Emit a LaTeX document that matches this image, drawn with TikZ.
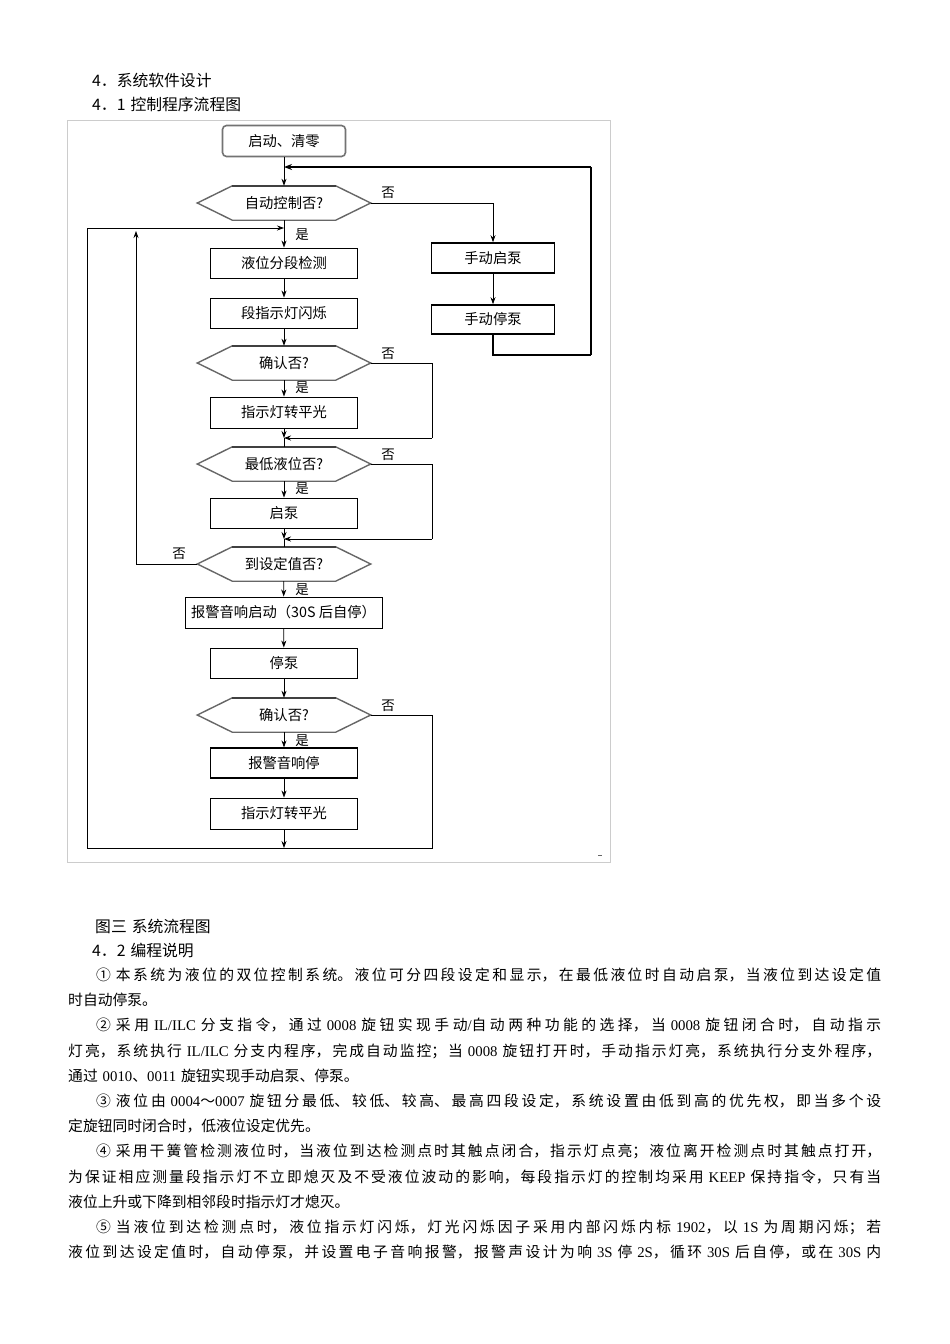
\documentclass[tikz,border=0pt]{standalone}
\usepackage{fontspec}
\setmainfont{Noto Sans CJK SC}
\newfontfamily\latf{Liberation Serif}
\usetikzlibrary{arrows.meta}
\XeTeXlinebreaklocale "zh"
\XeTeXlinebreakskip=0pt plus 1fil
\newcommand\fcfont{\fontsize{14.3}{16}\selectfont}
\newcommand\lblfont{\fontsize{13.5}{14}\selectfont}
\newcommand\hdfont{\fontsize{15.8}{17}\selectfont}
\newcommand\bodyfont{\fontsize{14.8}{25.2}\selectfont}
\newcommand\lw[1]{\mbox{\latf #1}}
\newcommand\hexa[1]{\draw[hexline] (#1.west) -- ([xshift=35pt]#1.north west) -- ([xshift=-35pt]#1.north east) -- (#1.east) -- ([xshift=-35pt]#1.south east) -- ([xshift=35pt]#1.south west) -- cycle;
\draw[draw=black!75, line width=1.8pt] ([xshift=35pt]#1.north west) -- ([xshift=-35pt]#1.north east);}
\begin{document}
\begin{tikzpicture}[x=1pt,y=-1pt,
  box/.style={draw=black, line width=0.9pt, minimum width=147pt, minimum height=30pt, inner sep=0pt, font=\fcfont, fill=white},
  tbox/.style={box, line width=1.6pt},
  dec/.style={minimum width=173pt, minimum height=34pt, inner sep=0pt, font=\fcfont},
  hexline/.style={draw=black!60, line width=1.4pt, line join=miter},
  arr/.style={-{Stealth[length=7pt,width=5pt]}, line width=0.8pt},
  ln/.style={line width=0.8pt},
  thk/.style={line width=2pt},
  lbl/.style={font=\lblfont, inner sep=0pt},
  hd/.style={font=\hdfont, inner sep=0pt, anchor=base west},
]
\useasboundingbox (0,0) rectangle (950,1344);
\fill[white] (0,0) rectangle (950,1344);

% headers
\node[hd] (h1) at (92,86) {4．系统软件设计};
\node[hd] (h2) at (92,110) {4．1\hspace{5pt}控制程序流程图};

% frame
\draw[black!20, line width=0.8pt] (67,120) rectangle (610,862);
\draw[black!60, line width=1pt] (598,855) -- (602,855);

% main column
\node[draw=black!55, line width=1.6pt, rounded corners=4pt, minimum width=123pt, minimum height=31pt, inner sep=0pt, font=\fcfont] (start) at (284,141) {启动、清零};
\node[dec] (d1) at (284,203) {自动控制否?};
\node[box] (b1) at (284,263) {液位分段检测};
\node[box] (b2) at (284,313) {段指示灯闪烁};
\node[dec] (d2) at (284,363) {确认否?};
\node[box, minimum height=31pt] (b3) at (284,412.5) {指示灯转平光};
\node[dec] (d3) at (284,464) {最低液位否?};
\node[box] (b4) at (284,513) {启泵};
\node[dec] (d4) at (284,564) {到设定值否?};
\node[box, minimum width=197pt, minimum height=31pt] (b5) at (283.5,612.5) {报警音响启动（30S 后自停）};
\node[box] (b6) at (284,663) {停泵};
\node[dec] (d5) at (284,715) {确认否?};
\node[box, line width=1.2pt] (b7) at (284,763) {报警音响停};
\node[box, minimum height=31pt] (b8) at (284,813.5) {指示灯转平光};

% right column
\node[tbox, minimum width=123pt] (r1) at (493,258) {手动启泵};
\node[tbox, minimum width=123pt, minimum height=29pt] (r2) at (493,319.5) {手动停泵};

\hexa{d1}\hexa{d2}\hexa{d3}\hexa{d4}\hexa{d5}

% coordinates
\coordinate (mj0) at (284,167);
\coordinate (mj1) at (284,228);
\coordinate (mj2) at (284,438);
\coordinate (mj3) at (284,539);
\coordinate (mbot) at (284,848);
\coordinate (rr1) at (591,355);
\coordinate (rr2) at (591,167);
\coordinate (rc2) at (432,438);
\coordinate (rc3) at (432,539);
\coordinate (rc5) at (432,848);
\coordinate (lb) at (87,848);
\coordinate (lt) at (87,228);
\coordinate (lt2) at (136,231);

% main flow
\draw[arr] (start) -- (d1);
\draw[arr] (d1) -- (b1);
\draw[arr] (b1) -- (b2);
\draw[arr] (b2) -- (d2);
\draw[arr] (d2) -- (b3);
\draw[arr] (b3) -- (mj2);
\draw[ln] (mj2) -- (d3);
\draw[arr] (d3) -- (b4);
\draw[arr] (b4) -- (mj3);
\draw[ln] (mj3) -- (d4);
\draw[arr] (d4) -- (b5);
\draw[arr] (b5) -- (b6);
\draw[arr] (b6) -- (d5);
\draw[arr] (d5) -- (b7);
\draw[arr] (b7) -- (b8);
\draw[arr] (b8) -- (mbot);

% manual branch
\draw[arr] (d1.east) -| (r1.north);
\draw[arr] (r1) -- (r2);
\draw[line width=1.1pt] (r2.south) |- (rr1);
\draw[thk] (rr1) -- (rr2);
\draw[thk, -{Stealth[length=8pt,width=6pt]}] (rr2) -- (mj0);

% no-branches
\draw[ln] (d2.east) -| (rc2);
\draw[arr] (rc2) -- (mj2);
\draw[ln] (d3.east) -| (rc3);
\draw[arr] (rc3) -- (mj3);
\draw[arr] (d4.west) -| (lt2);
\draw[ln] (d5.east) -| (rc5) -- (lb) -- (lt);
\draw[arr] (lt) -- (mj1);

% labels
\node[lbl] (y1) at (302,235) {是};
\node[lbl] (y2) at (302,388) {是};
\node[lbl] (y3) at (302,489) {是};
\node[lbl] (y4) at (302,590) {是};
\node[lbl] (y5) at (302,741) {是};
\node[lbl] (n1) at (388,193) {否};
\node[lbl] (n2) at (388,354) {否};
\node[lbl] (n3) at (388,455) {否};
\node[lbl] (n4) at (179,554) {否};
\node[lbl] (n5) at (388,706) {否};

% caption and section
\node[hd] (cap) at (95,932) {图三\hspace{5pt}系统流程图};
\node[hd] (h3) at (92,956) {4．2\hspace{5pt}编程说明};

% body
\node[anchor=base west, inner sep=0pt, text width=813pt, font=\bodyfont] (body) at (68,980.5) {%
\leftskip=0pt \rightskip=0pt \parfillskip=0pt plus 1fill \parindent=0pt \tolerance=10000
\hspace*{28pt}①\hspace{5pt}本系统为液位的双位控制系统。液位可分四段设定和显示，在最低液位时自动启泵，当液位到达设定值\linebreak
时自动停泵。\par
\hspace*{28pt}②\hspace{5pt}采用 \lw{IL/ILC} 分支指令，通过 \lw{0008} 旋钮实现手动\lw{/}自动两种功能的选择，当 \lw{0008} 旋钮闭合时，自动指示\linebreak
灯亮，系统执行 \lw{IL/ILC} 分支内程序，完成自动监控；当 \lw{0008} 旋钮打开时，手动指示灯亮，系统执行分支外程序，\linebreak
通过 \lw{0010}、\lw{0011} 旋钮实现手动启泵、停泵。\par
\hspace*{28pt}③\hspace{5pt}液位由 \lw{0004}～\lw{0007} 旋钮分最低、较低、较高、最高四段设定，系统设置由低到高的优先权，即当多个设\linebreak
定旋钮同时闭合时，低液位设定优先。\par
\hspace*{28pt}④\hspace{5pt}采用干簧管检测液位时，当液位到达检测点时其触点闭合，指示灯点亮；液位离开检测点时其触点打开，\linebreak
为保证相应测量段指示灯不立即熄灭及不受液位波动的影响，每段指示灯的控制均采用 \lw{KEEP} 保持指令，只有当\linebreak
液位上升或下降到相邻段时指示灯才熄灭。\par
{\parfillskip=0pt
\hspace*{28pt}⑤\hspace{5pt}当液位到达检测点时，液位指示灯闪烁，灯光闪烁因子采用内部闪烁内标 \lw{1902}，以 \lw{1S} 为周期闪烁；若\linebreak
液位到达设定值时，自动停泵，并设置电子音响报警，报警声设计为响 \lw{3S} 停 \lw{2S}，循环 \lw{30S} 后自停，或在 \lw{30S} 内\par}
};
\end{tikzpicture}
\end{document}
